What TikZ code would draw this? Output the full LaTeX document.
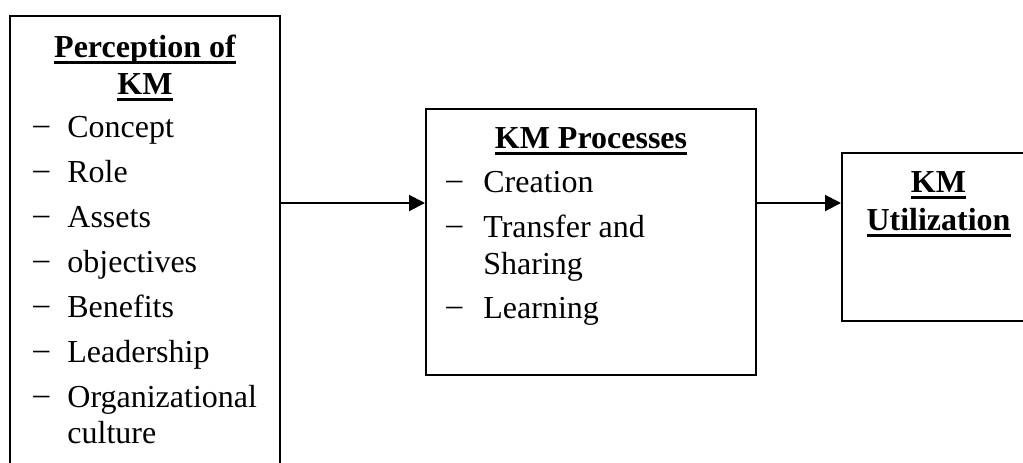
\documentclass[tikz,border=0pt]{standalone}
\usepackage{fontspec}
\setmainfont{Liberation Serif}
\usetikzlibrary{arrows.meta,fit}
\newsavebox{\hulbox}
\newcommand{\hul}[1]{\sbox{\hulbox}{#1}\rlap{\rule[-3.25pt]{\wd\hulbox}{1.5pt}}\usebox{\hulbox}}
\newcommand{\dashmark}{\raisebox{0.08em}{–}}
\begin{document}
\begin{tikzpicture}[x=0.5pt,y=-0.5pt,
  box/.style={draw, line width=1pt, inner sep=0pt},
  txt/.style={anchor=base west, inner sep=0pt, font=\fontsize{16}{19}\selectfont},
  head/.style={anchor=base, inner sep=0pt, font=\fontsize{16}{19}\selectfont\bfseries},
  arr/.style={line width=1pt, -{Triangle[length=8pt,width=8pt]}}]
\useasboundingbox (0,0) rectangle (1023,462);
\clip (0,0) rectangle (1023,462);
% boxes
\coordinate (Lnw) at (10,16);  \coordinate (Lse) at (280,490);
\coordinate (Mnw) at (426,109); \coordinate (Mse) at (756,375);
\coordinate (Rnw) at (842,153); \coordinate (Rse) at (1045,321);
\node[box, fit=(Lnw)(Lse)] (L) {};
\node[box, fit=(Mnw)(Mse)] (M) {};
\node[box, fit=(Rnw)(Rse)] (R) {};
% left box text
\node[head] (lh1) at (145,57) {\hul{Perception of}};
\node[head] (lh2) at (145,94) {\hul{KM}};
\node[txt] (ld1) at (33,137) {\dashmark};  \node[txt] (lt1) at (67,137) {Concept};
\node[txt] (ld2) at (33,182) {\dashmark};  \node[txt] (lt2) at (67,182) {Role};
\node[txt] (ld3) at (33,227) {\dashmark};  \node[txt] (lt3) at (67,227) {Assets};
\node[txt] (ld4) at (33,272) {\dashmark};  \node[txt] (lt4) at (67,272) {objectives};
\node[txt] (ld5) at (33,317) {\dashmark};  \node[txt] (lt5) at (67,317) {Benefits};
\node[txt] (ld6) at (33,362) {\dashmark};  \node[txt] (lt6) at (67,362) {Leadership};
\node[txt] (ld7) at (33,407) {\dashmark};  \node[txt] (lt7) at (67,407) {Organizational};
\node[txt] (lt8) at (67,443) {culture};
% middle box text
\node[head] (mh) at (591,148) {\hul{KM Processes}};
\node[txt] (md1) at (446,192) {\dashmark}; \node[txt] (mt1) at (483,192) {Creation};
\node[txt] (md2) at (446,237) {\dashmark}; \node[txt] (mt2) at (483,237) {Transfer and};
\node[txt] (mt3) at (483,274) {Sharing};
\node[txt] (md3) at (446,318) {\dashmark}; \node[txt] (mt4) at (483,318) {Learning};
% right box text
\node[head] (rh1) at (938.5,192) {\hul{KM}};
\node[head] (rh2) at (938.5,230) {\hul{Utilization}};
% arrows
\coordinate (ay) at (0,203);
\draw[arr] (L.east |- ay) -- (M.west |- ay);
\draw[arr] (M.east |- ay) -- (R.west |- ay);
\end{tikzpicture}
\end{document}
